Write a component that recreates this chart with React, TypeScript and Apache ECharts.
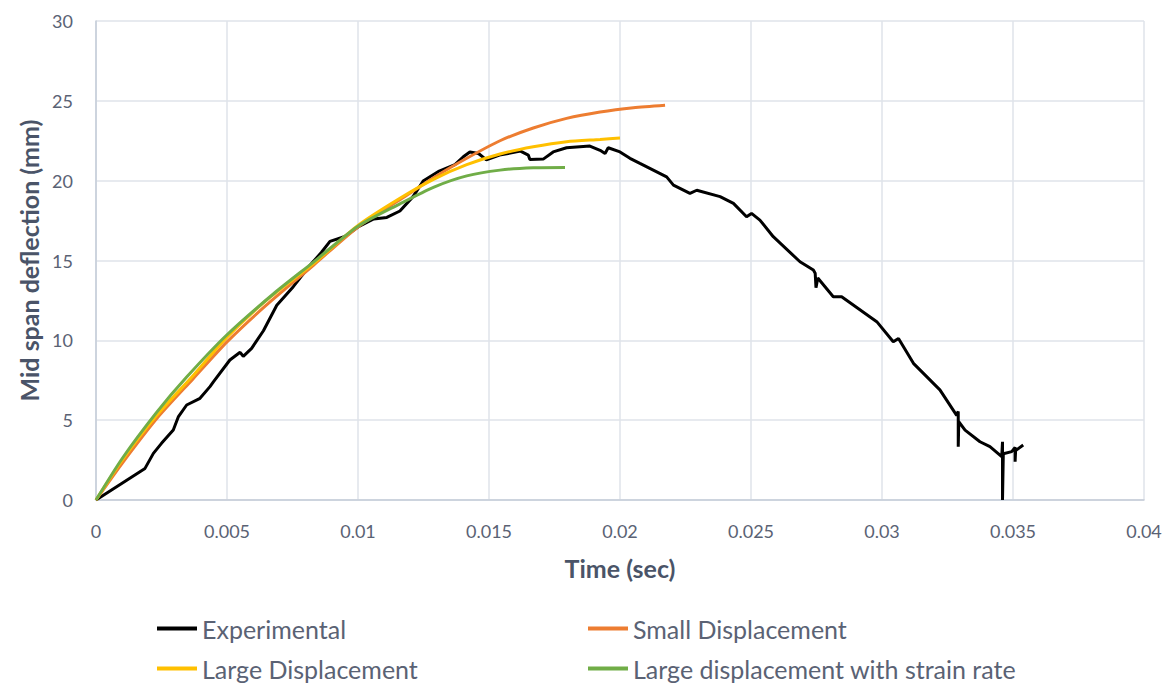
import React, { useEffect, useRef } from "react";
import * as echarts from "echarts";

const seriesNames = [
  "Experimental",
  "Small Displacement",
  "Large Displacement",
  "Large displacement with strain rate",
];
const seriesColors = ["#000000", "#ED7D31", "#FFC000", "#70AD47"];

const experimental: [number, number][] = [
  [0, 0], [0.00187, 1.98], [0.00219, 2.92], [0.0025, 3.55], [0.00295, 4.38],
  [0.00314, 5.2], [0.00346, 5.95], [0.00397, 6.37], [0.00435, 7.1], [0.00448, 7.4],
  [0.00511, 8.77], [0.0055, 9.25], [0.00562, 9.0], [0.00594, 9.5], [0.00639, 10.6],
  [0.0069, 12.2], [0.00753, 13.36], [0.00817, 14.7], [0.0086, 15.5], [0.00893, 16.2],
  [0.0095, 16.5], [0.01, 17.1], [0.0106, 17.6], [0.0111, 17.7], [0.0116, 18.1],
  [0.0121, 19.0], [0.0125, 20.0], [0.0131, 20.6], [0.0137, 21.0], [0.01402, 21.5],
  [0.01427, 21.8], [0.0146, 21.7], [0.0149, 21.3], [0.0154, 21.6], [0.0162, 21.85],
  [0.0165, 21.6], [0.01656, 21.33], [0.01707, 21.35], [0.01745, 21.8], [0.01796, 22.06],
  [0.01885, 22.17], [0.01924, 21.9], [0.01943, 21.7], [0.01955, 22.06], [0.02, 21.8],
  [0.02038, 21.4], [0.02076, 21.08], [0.02178, 20.24], [0.02204, 19.72], [0.02267, 19.2],
  [0.02293, 19.4], [0.02382, 19.0], [0.02433, 18.58], [0.02483, 17.74], [0.02502, 17.95],
  [0.02534, 17.53], [0.02585, 16.49], [0.02687, 14.92], [0.02738, 14.4], [0.02745, 14.2],
  [0.02748, 13.3], [0.02755, 13.9], [0.02814, 12.73], [0.02846, 12.73], [0.0298, 11.17],
  [0.03043, 9.91], [0.03063, 10.12], [0.0312, 8.56], [0.03221, 6.9], [0.03285, 5.3],
  [0.03291, 5.55], [0.03291, 3.34], [0.03293, 4.9], [0.03317, 4.38], [0.03374, 3.65],
  [0.03412, 3.34], [0.03457, 2.71], [0.0346, 3.65], [0.0346, 0], [0.03463, 2.9],
  [0.03495, 3.03], [0.03508, 3.3], [0.03508, 2.4], [0.0351, 3.1], [0.03539, 3.44],
];

const smallDisplacement: [number, number][] = [
  [0, 0], [0.001, 2.3], [0.00232, 5.1], [0.00371, 7.6], [0.005, 9.9], [0.0065, 12.2],
  [0.0083, 14.7], [0.01, 17.1], [0.0116, 18.8], [0.0129, 20.2], [0.01415, 21.4],
  [0.01542, 22.5], [0.01669, 23.3], [0.01796, 23.9], [0.01924, 24.3], [0.02051, 24.57],
  [0.02172, 24.73],
];

const largeDisplacement: [number, number][] = [
  [0, 0], [0.001, 2.5], [0.00232, 5.3], [0.00371, 7.8], [0.005, 10.2], [0.0065, 12.5],
  [0.0083, 14.8], [0.01, 17.2], [0.0116, 18.9], [0.0129, 20.1], [0.01415, 21.0],
  [0.01542, 21.67], [0.01669, 22.12], [0.01796, 22.44], [0.01924, 22.58], [0.02, 22.67],
];

const largeStrainRate: [number, number][] = [
  [0, 0], [0.001, 2.6], [0.00232, 5.5], [0.00346, 7.7], [0.005, 10.35], [0.0068, 12.95],
  [0.0083, 14.9], [0.01, 17.15], [0.0116, 18.55], [0.0129, 19.6], [0.01415, 20.3],
  [0.01542, 20.66], [0.01669, 20.81], [0.0179, 20.83],
];

const FONT = "Lato, 'Open Sans', sans-serif";
const LABEL = "#5a6274";
const NAME = "#4a5468";

export default function App() {
  const ref = useRef<HTMLDivElement>(null);
  useEffect(() => {
    if (!ref.current) return;
    const chart = echarts.init(ref.current, null, { renderer: "svg" });
    const datasets = [experimental, smallDisplacement, largeDisplacement, largeStrainRate];
    const legendPos = [
      { left: 157, top: 616 },
      { left: 588, top: 616 },
      { left: 157, top: 656 },
      { left: 588, top: 656 },
    ];
    chart.setOption({
      animation: false,
      textStyle: { fontFamily: FONT },
      grid: { left: 96, right: 28, top: 21, bottom: 185 },
      legend: seriesNames.map((n, i) => ({
        data: [n],
        ...legendPos[i],
        padding: 0,
        icon: "rect",
        itemWidth: 40,
        itemHeight: 4,
        textStyle: { fontFamily: FONT, fontSize: 25, color: LABEL },
      })),
      xAxis: {
        type: "value",
        min: 0,
        max: 0.04,
        interval: 0.005,
        name: "Time (sec)",
        nameLocation: "middle",
        nameGap: 55,
        nameTextStyle: { fontFamily: FONT, fontSize: 25, fontWeight: "bold", color: NAME },
        axisLine: { show: true, lineStyle: { color: "#c5ccd8", width: 1.5 } },
        axisTick: { show: false },
        axisLabel: {
          fontFamily: FONT,
          fontSize: 18,
          color: LABEL,
          margin: 22,
          formatter: (v: number) => String(+v.toFixed(3)),
        },
        splitLine: { show: true, lineStyle: { color: "#dfe3ea", width: 1.5 } },
      },
      yAxis: {
        type: "value",
        min: 0,
        max: 30,
        interval: 5,
        name: "Mid span deflection (mm)",
        nameLocation: "middle",
        nameGap: 52,
        nameTextStyle: { fontFamily: FONT, fontSize: 25, fontWeight: "bold", color: NAME },
        axisLine: { show: true, lineStyle: { color: "#c5ccd8", width: 1.5 } },
        axisTick: { show: false },
        axisLabel: { fontFamily: FONT, fontSize: 18, color: LABEL, margin: 23 },
        splitLine: { show: true, lineStyle: { color: "#dfe3ea", width: 1.5 } },
      },
      series: seriesNames.map((n, i) => ({
        name: n,
        type: "line",
        data: datasets[i],
        showSymbol: false,
        symbol: "none",
        smooth: i === 0 ? false : 0.25,
        lineStyle: { color: seriesColors[i], width: 3 },
        itemStyle: { color: seriesColors[i] },
      })),
    });
    return () => chart.dispose();
  }, []);
  return (
    <div
      ref={ref}
      style={{ position: "absolute", left: 0, top: 0, width: 1172, height: 685, background: "#fff" }}
    />
  );
}
